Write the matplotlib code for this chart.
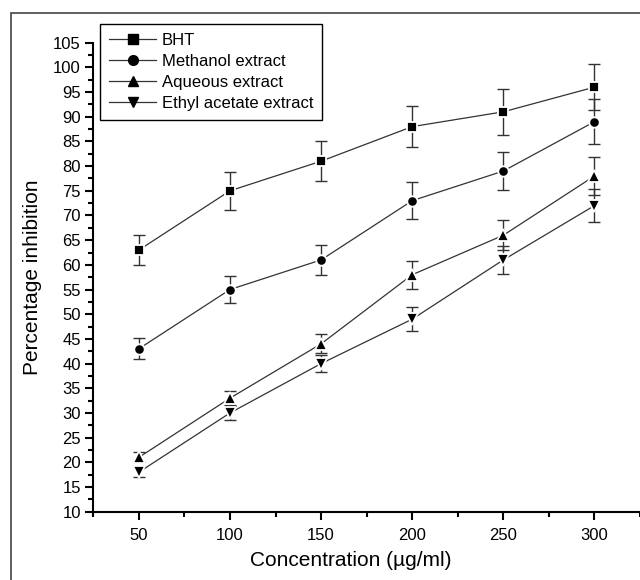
import matplotlib
matplotlib.use("Agg")
import matplotlib.pyplot as plt
from matplotlib.patches import Rectangle
from matplotlib.ticker import MultipleLocator, FixedLocator

plt.rcParams['font.family'] = ['Liberation Sans', 'DejaVu Sans']

conc = [50, 100, 150, 200, 250, 300]
series_names = ["BHT", "Methanol extract", "Aqueous extract", "Ethyl acetate extract"]
bht = [63, 75, 81, 88, 91, 96]
bht_err = [3.1, 3.8, 4.0, 4.2, 4.6, 4.7]
methanol = [43, 55, 61, 73, 79, 89]
methanol_err = [2.1, 2.7, 3.0, 3.7, 3.9, 4.5]
aqueous = [21, 33, 44, 58, 66, 78]
aqueous_err = [1.0, 1.4, 1.9, 2.8, 3.0, 3.8]
ethyl = [18, 30, 40, 49, 61, 72]
ethyl_err = [1.0, 1.4, 1.8, 2.4, 2.9, 3.4]
markers = ["s", "o", "^", "v"]

fig = plt.figure(figsize=(6.4, 5.8), dpi=100)
ax = fig.add_axes([93.3/640, 1-511.7/580, (640-93.3)/640, (511.7-42.7)/580])

# outer frame
fig.patches.append(Rectangle((11/640, -0.1), 1.2, 1 - 13.3/580 + 0.1,
                             transform=fig.transFigure, fill=False,
                             edgecolor='#444444', lw=1.2))

data = [(bht, bht_err), (methanol, methanol_err), (aqueous, aqueous_err), (ethyl, ethyl_err)]
handles = []
for (vals, errs), name, mk in zip(data, series_names, markers):
    ax.errorbar(conc, vals, yerr=errs, fmt='none', ecolor='#333333',
                elinewidth=1.0, capsize=4.5, capthick=1.0, zorder=2)
    ax.plot(conc, vals, '-', color='#333333', lw=0.9, zorder=1)
    ax.plot(conc, vals, linestyle='none', marker=mk, ms=8.5 if mk in '^v' else 7.5,
            mfc='black', mec='white', mew=1.3, zorder=3)
    h, = ax.plot([], [], '-', color='#333333', lw=0.9, marker=mk,
                 ms=7.5 if mk in '^v' else 7, mfc='black', mec='black', label=name)
    handles.append(h)

ax.set_xlim(25, 325)
ax.set_ylim(10, 105)
ax.set_xticks(conc)
ax.set_yticks(range(10, 106, 5))
ax.xaxis.set_minor_locator(FixedLocator([25, 75, 125, 175, 225, 275, 325]))
ax.yaxis.set_minor_locator(MultipleLocator(2.5))
for s in ['top', 'right']:
    ax.spines[s].set_visible(False)
for s in ['left', 'bottom']:
    ax.spines[s].set_linewidth(1.5)
ax.tick_params(which='major', direction='out', length=6, width=1.5, labelsize=12, pad=3)
ax.tick_params(which='minor', direction='out', length=3.5, width=1.5)
ax.tick_params(axis='x', which='major', pad=6)

ax.set_ylabel("Percentage inhibition", fontsize=15, labelpad=8)
fig.text(351/640, 1-561/580, "Concentration (µg/ml)", fontsize=15,
         ha='center', va='center')

leg = ax.legend(handles=handles, loc='upper left',
                bbox_to_anchor=(100/640, 1-24/580), bbox_transform=fig.transFigure,
                borderaxespad=0, fancybox=False, framealpha=1, edgecolor='black',
                fontsize=12, handlelength=2.8, handletextpad=0.35, labelspacing=0.36,
                borderpad=0.55)
leg.get_frame().set_linewidth(1.0)

fig.savefig("out.png", dpi=100)
